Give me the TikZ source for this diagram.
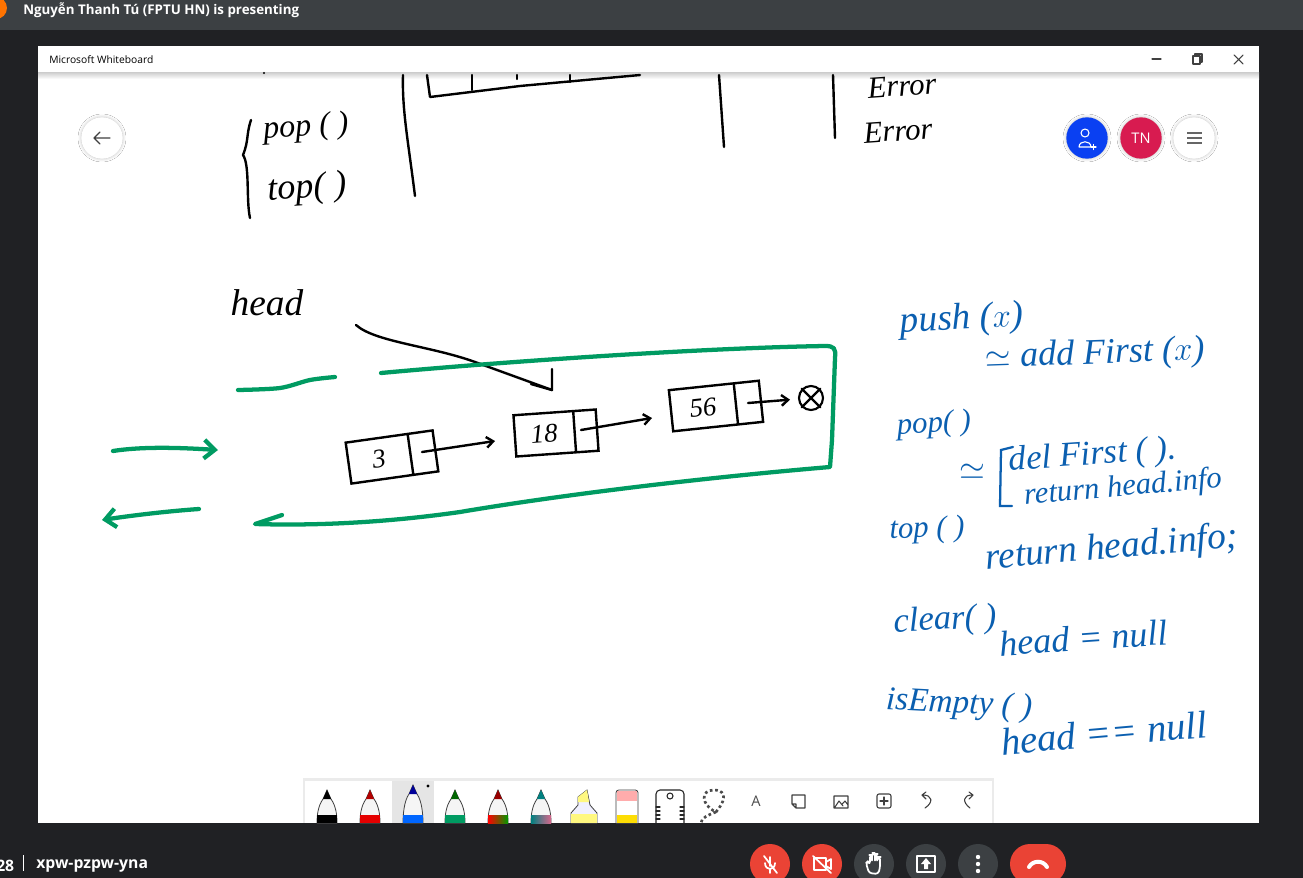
\documentclass[tikz,border=0pt]{standalone}
\usepackage{fontspec}
\usetikzlibrary{arrows.meta,shapes.multipart,shapes.misc,shadows.blur}
\newfontfamily\uifont{Open Sans}
\newfontfamily\inkfont{Liberation Serif}
\definecolor{barbg}{HTML}{202124}
\definecolor{topbar}{HTML}{3C4043}
\definecolor{inkgreen}{HTML}{009B62}
\definecolor{inkblue}{HTML}{0B5FB0}
\definecolor{callred}{HTML}{EA4335}
\definecolor{userblue}{HTML}{0A40F2}
\definecolor{usercrimson}{HTML}{D81B50}
\tikzset{
  inkblack/.style={draw=black, line width=1.8pt, line cap=round, line join=round},
  inkloop/.style={draw=inkgreen, line width=3.2pt, line cap=round, line join=round},
  blackhand/.style={font=\inkfont\itshape\fontsize{#1}{#1}\selectfont, text=black, inner sep=0pt},
  blackhand/.default=27,
  bluehand/.style={font=\inkfont\itshape\fontsize{#1}{#1}\selectfont, text=inkblue, inner sep=0pt},
  bluehand/.default=27,
  listcell/.style={rectangle split, rectangle split horizontal, rectangle split parts=2,
    draw=black, line width=1.8pt, inner xsep=2pt, inner ysep=0pt, minimum height=31pt,
    font=\inkfont\itshape\fontsize{20}{22}\selectfont},
  nextarrow/.style={inkblack, -{Straight Barb[length=5pt,width=8pt]}},
  greenarrow/.style={inkloop, -{Straight Barb[length=8pt,width=14pt]}},
  roundbtn/.style={circle, minimum size=31pt, inner sep=0pt, fill=white, blur shadow={shadow blur steps=8, shadow xshift=0pt, shadow yshift=0pt, shadow blur radius=2.5pt, shadow opacity=25}},
  callbtn/.style={circle, minimum size=30pt, inner sep=0pt},
  uitext/.style={font=\uifont\fontsize{7.7}{10}\selectfont, inner sep=0pt},
  barlabel/.style={font=\uifont\bfseries\fontsize{#1}{12}\selectfont, text=white, inner sep=0pt},
  iconline/.style={draw=#1, line width=0.8pt, line cap=round, line join=round},
  iconline/.default=black!75
}
\begin{document}
\begin{tikzpicture}[x=0.75pt, y=-0.75pt]
  \useasboundingbox (0,0) rectangle (1303,878);
  % meeting window
  \fill[barbg] (0,0) rectangle (1303,878);
  \fill[topbar] (0,0) rectangle (1303,30);
  \fill[orange!90!red] (-4,8) circle (11);
  \node[barlabel=10, anchor=west] (presenter) at (23,10) {Nguyễn Thanh Tú (FPTU HN) is presenting};
  % whiteboard
  \fill[white] (38,46) rectangle (1259,823);
  \shade[top color=black!20, bottom color=white] (38,72) rectangle (1259,79);
  \node[uitext, anchor=west] (apptitle) at (49,60) {Microsoft Whiteboard};
  \draw[iconline] (1152,59) -- (1161,59);
  \draw[iconline] (1193,56) rectangle (1200,64) (1195,56) -- (1195,54) -- (1202,54) -- (1202,62) -- (1200,62);
  \draw[iconline] (1234,55) -- (1243,64) (1243,55) -- (1234,64);

  % text at the top
  \fill[black] (264,73) circle (1.2);
  \draw[inkblack] (403,75) .. controls (402,110) and (408,140) .. (415,196);
  \draw[inkblack] (719,75) -- (724,147);
  \draw[inkblack] (833,75) -- (835,138);
  \draw[inkblack] (427,75) -- (430,97) -- (520,86) -- (640,75);
  \draw[inkblack] (472,75) -- (472,90) (517,75) -- (517,79) (570,75) -- (570,82);
  \draw[inkblack] (251,120) .. controls (246,135) and (249,140) .. (243,155)
    .. controls (250,165) and (246,200) .. (250,218);
  \node[blackhand=24, rotate=4] (poplabel) at (306,128) {pop ( )};
  \node[blackhand, rotate=4] (toplabel) at (307,189) {top( )};
  \node[blackhand=23, rotate=4] (errone) at (902,86) {Error};
  \node[blackhand=23, rotate=4] (errtwo) at (898,131) {Error};

  % linked list
  \node[blackhand=28] (headlabel) at (267,303) {head};
  \node[listcell, rotate=8] (cellthree) at (392,457)
    {\makebox[42pt]{3}\nodepart{two}\makebox[14pt]{}};
  \node[listcell, rotate=4] (celleighteen) at (556,433)
    {\makebox[40pt]{18}\nodepart{two}\makebox[12pt]{}};
  \node[listcell, rotate=6] (cellfiftysix) at (716,406)
    {\makebox[44pt]{56}\nodepart{two}\makebox[14pt]{}};
  \node[circle, draw=black, line width=1.6pt, minimum size=18pt, inner sep=0pt] (nil) at (811,398) {};
  \draw[inkblack] (nil.north west) -- (nil.south east) (nil.north east) -- (nil.south west);
  \coordinate (inone) at (495,441);
  \coordinate (intwo) at (652,418);
  \coordinate (threeout) at (422,452);
  \coordinate (eighteenout) at (581,430);
  \coordinate (fiftysixout) at (748,403);
  \draw[nextarrow] (threeout) -- (inone);
  \draw[nextarrow] (eighteenout) -- (intwo);
  \draw[nextarrow, shorten >=6pt] (fiftysixout) -- (nil);
  \coordinate (headtail) at (356,325);
  \coordinate (headtip) at (552,390);
  \draw[inkblack] (headtail) .. controls (375,342) and (431,346) .. (475,362) -- (headtip) -- (552,369);
  \draw[inkblack] (headtip) -- (531,384);

  % green outline
  \draw[inkloop] plot[smooth] coordinates {(238,390) (280,388) (310,380) (335,377)};
  \draw[inkloop] (381,373) .. controls (500,362) and (700,348) .. (825,346)
    .. controls (834,346) and (836,348) .. (835,358) -- (832,440) -- (830,467)
    .. controls (700,478) and (560,495) .. (460,512) .. controls (390,522) and (320,526) .. (255,524)
    -- (282,515);
  \coordinate (inleft) at (113,451);
  \coordinate (intip) at (218,450);
  \coordinate (outleft) at (199,509);
  \coordinate (outtip) at (102,520);
  \draw[greenarrow] (inleft) .. controls (145,446) and (185,448) .. (intip);
  \draw[greenarrow] (outleft) .. controls (170,511) and (135,515) .. (outtip);

  % notes on the right
  \node[bluehand=28, rotate=3] (pushnote) at (962,320) {push ($x$)};
  \node[bluehand, rotate=2] (pushbody) at (1095,355) {$\simeq$ add First ($x$)};
  \node[bluehand=23, rotate=3] (popnote) at (934,425) {pop( )};
  \node[bluehand] (popsim) at (972,472) {$\simeq$};
  \draw[draw=inkblue, line width=1.7pt, line cap=round] (1013,447) -- (1001,450) -- (1000,506) -- (1012,506);
  \node[bluehand=26, rotate=4, anchor=west] (popdel) at (1009,462) {del First ( ).};
  \node[bluehand=23, rotate=5, anchor=west] (popret) at (1024,497) {return head.info};
  \node[bluehand=23, rotate=2] (topnote) at (927,530) {top ( )};
  \node[bluehand=28, rotate=5] (topbody) at (1112,549) {return head.info;};
  \node[bluehand=26, rotate=3] (clearnote) at (945,621) {clear( )};
  \node[bluehand, rotate=4] (clearbody) at (1084,638) {head = null};
  \node[bluehand=25, rotate=-3] (emptynote) at (959,705) {isEmpty ( )};
  \node[bluehand=29, rotate=5] (emptybody) at (1104,733) {head == null};

  % round buttons
  \node[roundbtn] (backbtn) at (102,138) {};
  \draw[iconline] (94,138) -- (110,138) (100,132) -- (94,138) -- (100,144);
  \node[roundbtn, fill=userblue] (invitebtn) at (1087,138) {};
  \draw[iconline=white] (1085,133) circle (4) (1079,147) .. controls (1079,140) and (1091,140) .. (1091,147) -- cycle;
  \draw[iconline=white] (1091,147) -- (1096,147) (1093.5,144.5) -- (1093.5,149.5);
  \node[roundbtn, fill=usercrimson, text=white, font=\uifont\fontsize{11}{13}\selectfont] (userbtn) at (1141,138) {TN};
  \node[roundbtn] (menubtn) at (1194,138) {};
  \foreach \liney in {133,138,143}
    \draw[draw=black!60, line width=1pt] (1187,\liney) -- (1202,\liney);

  % toolbar
  \fill[black!8] (303,778) rectangle (994,823);
  \fill[white] (305,781) rectangle (992,823);
  \fill[black!10] (392,781) rectangle (434,823);
  \fill[black] (428,786) circle (1.6);
  \foreach \penx/\tiptop/\pentint/\penband in {327/790/black/black, 370/790/red!70!black/red!90!black, 413/785/blue!60!black/blue!60!cyan,
      455/790/green!40!black/inkgreen, 498/790/red!60!black/orange, 541/790/teal/teal!60!purple} {
    \filldraw[fill=black!4, draw=black!75, line width=0.6pt]
      (\penx,\tiptop) -- (\penx-4,\tiptop+9) .. controls (\penx-9,\tiptop+16) and (\penx-10,815) .. (\penx-10,823)
      -- (\penx+10,823) .. controls (\penx+10,815) and (\penx+9,\tiptop+16) .. (\penx+4,\tiptop+9) -- cycle;
    \fill[\pentint] (\penx,\tiptop) -- (\penx-4,\tiptop+9) -- (\penx+4,\tiptop+9) -- cycle;
    \fill[\penband] (\penx-10,815) rectangle (\penx+10,823);
  }
  \shade[left color=red, middle color=orange, right color=green!60!black] (488,815) rectangle (508,823);
  \shade[left color=teal, middle color=blue!50, right color=purple!60] (531,815) rectangle (551,823);
  % highlighter and eraser
  \filldraw[fill=blue!6, draw=black!75, line width=0.6pt] (571,823) -- (571,813) -- (578,805) -- (578,797) -- (587,790) -- (590,805) -- (597,813) -- (597,823) -- cycle;
  \fill[yellow!50] (571,814) rectangle (597,823);
  \fill[yellow!50] (578,797) -- (587,790) -- (589,802) -- (578,802) -- cycle;
  \filldraw[fill=white, draw=black!75, line width=0.6pt, rounded corners=2pt] (616,823) -- (616,790) -- (638,790) -- (638,823);
  \fill[pink!90!red] (617,791) rectangle (637,801);
  \fill[yellow!80!orange] (617,815) rectangle (637,823);
  % ruler and lasso
  \draw[iconline=black!85, rounded corners=3pt] (656,823) -- (656,790) -- (684,790) -- (684,823);
  \draw[iconline=black!85] (670,796) circle (3);
  \foreach \ticky in {807,811,815,819}
    \draw[iconline=black!85] (656,\ticky) -- (660,\ticky) (680,\ticky) -- (684,\ticky);
  \draw[draw=black!70, line width=2pt, dotted] (716,812) .. controls (730,795) and (722,790) .. (714,790)
    .. controls (700,790) and (701,805) .. (716,812) .. controls (708,815) and (701,818) .. (701,823);
  % text, note, picture, page and undo tools
  \node[font=\uifont\fontsize{11}{13}\selectfont, text=black!70, inner sep=0pt] (texttool) at (756,801) {A};
  \draw[iconline] (792,795) -- (805,795) -- (805,808) -- (796,808) -- (792,804) -- cycle (792,804) -- (796,804) -- (796,808);
  \draw[iconline] (834,796) rectangle (848,808) (835,807) -- (839,801) -- (843,806) (842,804) -- (845,801) -- (848,805);
  \draw[iconline, rounded corners=1.5pt] (877,794) rectangle (891,808);
  \draw[iconline] (884,797) -- (884,805) (880,801) -- (888,801);
  \draw[iconline] (925,808) .. controls (934,802) and (932,795) .. (923,795) (926,792) -- (922,795) -- (926,799);
  \draw[iconline] (970,808) .. controls (962,802) and (963,795) .. (972,795) (969,792) -- (973,795) -- (969,799);

  % bottom bar
  \node[barlabel=11.8, anchor=west] (clock) at (-4,866) {28};
  \fill[white] (22.5,855) rectangle (23.5,871);
  \node[barlabel=11.8, anchor=west] (meetcode) at (36,866) {xpw-pzpw-yna};
  \node[callbtn, fill=callred] (micbtn) at (770,864) {};
  \node[callbtn, fill=callred] (cambtn) at (822,864) {};
  \node[callbtn, fill=topbar] (handbtn) at (874,864) {};
  \node[callbtn, fill=topbar] (sharebtn) at (926,864) {};
  \node[callbtn, fill=topbar] (morebtn) at (978,864) {};
  \node[rounded rectangle, fill=callred, minimum width=42pt, minimum height=30pt, inner sep=0pt] (endbtn) at (1038,864) {};
  \draw[iconline=white, line width=1.3pt] (770,857) -- (770,866) (765,863) .. controls (765,871) and (775,871) .. (775,863) (770,869) -- (770,873) (764,856) -- (777,873);
  \draw[iconline=white, line width=1.3pt] (814,858) rectangle (826,870) (826,862) -- (831,859) -- (831,869) -- (826,866) (813,856) -- (831,873);
  \draw[iconline=white, line width=1.3pt, rounded corners=2pt] (869,873) -- (866,863) -- (868,861) -- (870,864) -- (870,855) -- (872,855) -- (872,862) -- (872,853) -- (875,853) -- (875,862) -- (875,854) -- (877,854) -- (877,862) -- (878,857) -- (880,857) -- (880,868) -- (878,874) -- cycle;
  \draw[iconline=white, line width=1.3pt] (917,856) rectangle (935,872);
  \fill[white] (926,858) -- (931,864) -- (928,864) -- (928,869) -- (924,869) -- (924,864) -- (921,864) -- cycle;
  \foreach \doty in {857,864,871}
    \fill[white] (978,\doty) circle (2.2);
  \draw[draw=white, line width=3pt, line cap=round] (1029,867) .. controls (1033,860) and (1043,860) .. (1047,867);
\end{tikzpicture}
\end{document}
